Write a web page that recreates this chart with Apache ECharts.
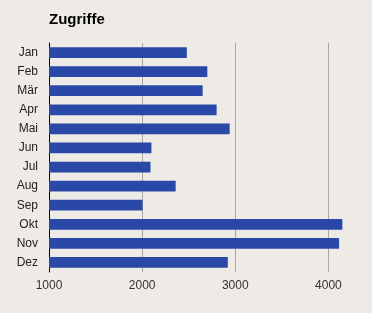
<!DOCTYPE html>
<html><head><meta charset="utf-8">
<script src="https://cdn.jsdelivr.net/npm/echarts@6/dist/echarts.min.js"></script>
<style>html,body{margin:0;padding:0;background:#eeebe7;}#c{width:372px;height:313px;}</style>
</head><body><div id="c"></div>
<script>
const categories = ["Jan","Feb","Mär","Apr","Mai","Jun","Jul","Aug","Sep","Okt","Nov","Dez"];
const zugriffe = [2480, 2700, 2650, 2800, 2940, 2100, 2090, 2360, 2005, 4150, 4115, 2920];
const xTicks = [1000, 2000, 3000, 4000];

const chart = echarts.init(document.getElementById('c'), null, {renderer:'canvas'});
chart.setOption({
  backgroundColor: '#eeebe7',
  animation: false,
  title: {
    text: 'Zugriffe', left: 44, top: 7,
    textStyle: {fontFamily: 'Liberation Sans, Arial, sans-serif', fontSize: 15, fontWeight: 'bold', color: '#000'}
  },
  grid: {left: 49, right: 25, top: 43, bottom: 41, containLabel: false},
  xAxis: {
    type: 'value', min: xTicks[0], max: 4200, interval: 1000,
    axisLine: {show: false}, axisTick: {show: false},
    splitLine: {show: true, showMaxLine: false, lineStyle: {color: '#a9a7a4', width: 1}},
    axisLabel: {
      color: '#333', fontFamily: 'Liberation Sans, Arial, sans-serif', fontSize: 12, margin: 8,
      formatter: v => xTicks.includes(v) ? String(v) : ''
    }
  },
  yAxis: {
    type: 'category', data: categories, inverse: true,
    axisLine: {show: true, lineStyle: {color: '#000', width: 1}},
    axisTick: {show: false},
    axisLabel: {color: '#222', fontFamily: 'Liberation Sans, Arial, sans-serif', fontSize: 12, margin: 11}
  },
  series: [{
    type: 'bar', data: zugriffe, barCategoryGap: '44%',
    itemStyle: {color: '#2a48a7'}
  }]
});
</script></body></html>
